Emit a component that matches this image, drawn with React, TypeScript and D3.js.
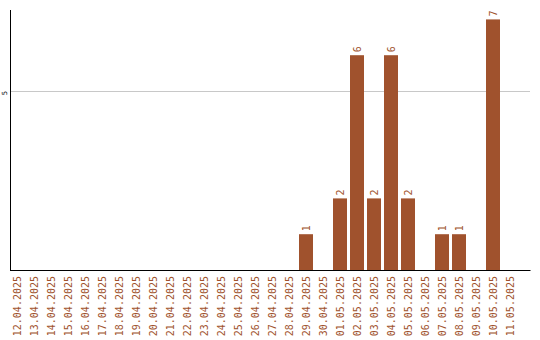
import React from "react";
import * as d3 from "d3";

const dates = [
  "12.04.2025", "13.04.2025", "14.04.2025", "15.04.2025", "16.04.2025",
  "17.04.2025", "18.04.2025", "19.04.2025", "20.04.2025", "21.04.2025",
  "22.04.2025", "23.04.2025", "24.04.2025", "25.04.2025", "26.04.2025",
  "27.04.2025", "28.04.2025", "29.04.2025", "30.04.2025", "01.05.2025",
  "02.05.2025", "03.05.2025", "04.05.2025", "05.05.2025", "06.05.2025",
  "07.05.2025", "08.05.2025", "09.05.2025", "10.05.2025", "11.05.2025",
];
const counts = [
  0, 0, 0, 0, 0, 0, 0, 0, 0, 0,
  0, 0, 0, 0, 0, 0, 0, 1, 0, 2,
  6, 2, 6, 2, 0, 1, 1, 0, 7, 0,
];
const yTicks = [5];

const W = 540;
const H = 340;
const BAR = "#A0522D";
const FONT = "'DejaVu Sans Mono', monospace";

export default function App() {
  const x = d3
    .scaleBand<string>()
    .domain(dates)
    .range([8.5, 518.5])
    .paddingInner(3 / 17)
    .paddingOuter(3 / 34);
  const y = d3.scaleLinear().domain([0, 7.263]).range([270, 10]);
  const bw = x.bandwidth();

  return (
    <svg
      width={W}
      height={H}
      style={{ position: "absolute", left: 0, top: 0, background: "#fff" }}
    >
      {yTicks.map((t) => (
        <g key={t}>
          <line
            x1={11}
            x2={530}
            y1={Math.round(y(t)) + 0.5}
            y2={Math.round(y(t)) + 0.5}
            stroke="#c8c8c8"
            strokeWidth={1}
          />
          <text
            transform={`translate(4.5, ${y(t)}) rotate(-90)`}
            textAnchor="end"
            dominantBaseline="central"
            fontFamily={FONT}
            fontSize={7}
            fill="#000"
          >
            {t}
          </text>
        </g>
      ))}
      {dates.map((d, i) =>
        counts[i] > 0 ? (
          <g key={d}>
            <rect
              x={x(d)}
              y={y(counts[i])}
              width={bw}
              height={y(0) - y(counts[i])}
              fill={BAR}
            />
            <text
              transform={`translate(${(x(d) as number) + bw / 2}, ${y(counts[i]) - 3}) rotate(-90)`}
              textAnchor="start"
              dominantBaseline="central"
              fontFamily={FONT}
              fontSize={10}
              fill={BAR}
            >
              {counts[i]}
            </text>
          </g>
        ) : null
      )}
      <line x1={10.5} x2={10.5} y1={10} y2={271} stroke="#000" strokeWidth={1} />
      <line x1={10} x2={530.5} y1={270.5} y2={270.5} stroke="#000" strokeWidth={1} />
      {dates.map((d) => (
        <text
          key={d}
          transform={`translate(${(x(d) as number) + bw / 2}, 276) rotate(-90)`}
          textAnchor="end"
          dominantBaseline="central"
          fontFamily={FONT}
          fontSize={10}
          fill={BAR}
        >
          {d}
        </text>
      ))}
    </svg>
  );
}
